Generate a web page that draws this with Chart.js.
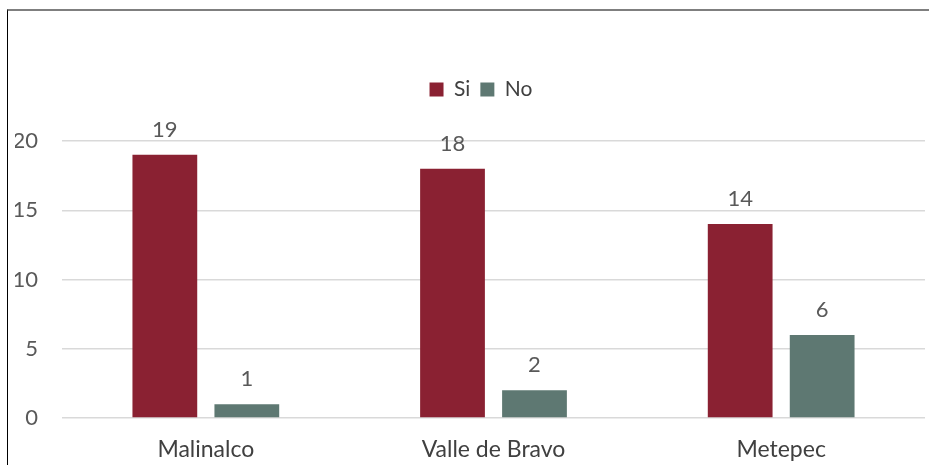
<!DOCTYPE html>
<html>
<head>
<meta charset="utf-8">
<script src="https://cdn.jsdelivr.net/npm/chart.js@4.4.1/dist/chart.umd.min.js"></script>
<style>
  html, body { margin: 0; padding: 0; background: #fff; }
  #wrap { position: relative; width: 929px; height: 465px; }
  #frame {
    position: absolute; left: 7px; top: 9px; right: 0; bottom: 0;
    border-top: 2px solid #7f7f7f; border-left: 1px solid #000;
    pointer-events: none;
  }
</style>
</head>
<body>
<div id="wrap">
  <canvas id="chart" width="929" height="465"></canvas>
  <div id="frame"></div>
</div>
<script>
  const categories = ["Malinalco", "Valle de Bravo", "Metepec"];
  const siValues = [19, 18, 14];
  const noValues = [1, 2, 6];
  const yTicks = [0, 5, 10, 15, 20];

  const FONT = "Lato, 'Open Sans', sans-serif";
  const TEXT_GRAY = "#595959";

  // value labels above each bar
  const barLabels = {
    id: "barLabels",
    afterDatasetsDraw(chart) {
      const ctx = chart.ctx;
      ctx.save();
      ctx.font = "22px " + FONT;
      ctx.fillStyle = TEXT_GRAY;
      ctx.textAlign = "center";
      ctx.textBaseline = "alphabetic";
      chart.data.datasets.forEach((ds, i) => {
        chart.getDatasetMeta(i).data.forEach((bar, j) => {
          ctx.fillText(String(ds.data[j]), bar.x, bar.y - 18);
        });
      });
      ctx.restore();
    }
  };

  // extra space under the legend and nudge it right
  const legendTweak = {
    id: "legendTweak",
    beforeInit(chart) {
      const fit = chart.legend.fit;
      chart.legend.fit = function () {
        fit.bind(chart.legend)();
        this.height += 31;
      };
    },
    afterLayout(chart) {
      chart.legend.left += 11;
      chart.legend.right += 11;
    }
  };

  new Chart(document.getElementById("chart"), {
    type: "bar",
    data: {
      labels: categories,
      datasets: [
        {
          label: "Si",
          data: siValues,
          backgroundColor: "#8a2132",
          categoryPercentage: 0.57,
          barPercentage: 0.79
        },
        {
          label: "No",
          data: noValues,
          backgroundColor: "#5e7872",
          categoryPercentage: 0.57,
          barPercentage: 0.79
        }
      ]
    },
    options: {
      responsive: false,
      devicePixelRatio: 1,
      animation: false,
      layout: { padding: { left: 15, right: 4, top: 69, bottom: 0 } },
      plugins: {
        legend: {
          position: "top",
          labels: {
            color: "#404040",
            font: { family: FONT, size: 21 },
            boxWidth: 14,
            boxHeight: 14,
            padding: 10
          }
        },
        tooltip: { enabled: false }
      },
      scales: {
        x: {
          grid: { display: false },
          border: { display: false },
          ticks: { color: "#404040", font: { family: FONT, size: 23 }, padding: 10 },
          afterFit(axis) { axis.height = 47; }
        },
        y: {
          min: 0,
          max: 20,
          afterBuildTicks(axis) { axis.ticks = yTicks.map(v => ({ value: v })); },
          grid: { color: "#d9d9d9", lineWidth: 1.5, drawTicks: false },
          border: { display: false },
          ticks: { color: TEXT_GRAY, font: { family: FONT, size: 22 }, padding: 24 },
          afterFit(axis) { axis.width = 47; }
        }
      }
    },
    plugins: [barLabels, legendTweak]
  });
</script>
</body>
</html>
